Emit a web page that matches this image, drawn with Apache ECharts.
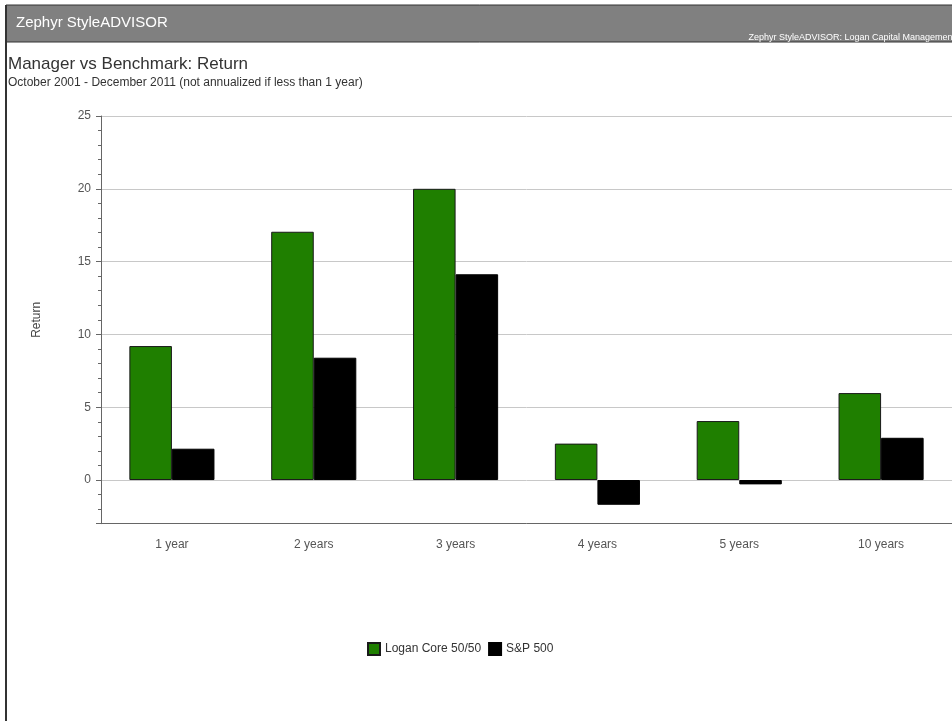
<!DOCTYPE html>
<html>
<head>
<meta charset="utf-8">
<script src="https://cdn.jsdelivr.net/npm/echarts@6/dist/echarts.min.js"></script>
<style>
html,body{margin:0;padding:0;background:#fff;}
#main{width:952px;height:721px;}
</style>
</head>
<body>
<div id="main"></div>
<script>
var categories = ['1 year', '2 years', '3 years', '4 years', '5 years', '10 years'];
var managerName = 'Logan Core 50/50';
var benchmarkName = 'S&P 500';
var managerValues = [9.2, 17.05, 20.0, 2.5, 4.05, 5.97];
var benchmarkValues = [2.15, 8.4, 14.13, -1.7, -0.3, 2.9];
var yMin = -3;
var yMax = 25;

var chart = echarts.init(document.getElementById('main'));
var font = 'Liberation Sans, Arial, sans-serif';
var option = {
  animation: false,
  textStyle: { fontFamily: font },
  graphic: [
    { type: 'rect', shape: { x: 6, y: 5, width: 950, height: 37 }, style: { fill: '#808080', stroke: '#333', lineWidth: 1 }, z: 0 },
    { type: 'line', shape: { x1: 6, y1: 5, x2: 6, y2: 725 }, style: { stroke: '#333', lineWidth: 2 } },
    { type: 'text', left: 16, top: 15, style: { text: 'Zephyr StyleADVISOR', fill: '#fff', font: '15px ' + font } },
    { type: 'text', right: -3, top: 33, style: { text: 'Zephyr StyleADVISOR: Logan Capital Management', fill: '#fff', font: '9px ' + font } },
    { type: 'text', left: 8, top: 56, style: { text: 'Manager vs Benchmark: Return', fill: '#333', font: '17px ' + font } },
    { type: 'text', left: 8, top: 77, style: { text: 'October 2001 - December 2011 (not annualized if less than 1 year)', fill: '#333', font: '12px ' + font } }
  ],
  legend: {
    left: 362, top: 637,
    itemWidth: 12, itemHeight: 12, itemGap: 7,
    icon: 'rect',
    textStyle: { fontSize: 12, color: '#333', fontFamily: font },
    data: [managerName, benchmarkName]
  },
  grid: { left: 101, top: 116, width: 853, height: 407.7, containLabel: false },
  xAxis: {
    type: 'category',
    data: categories,
    axisLine: { onZero: false, lineStyle: { color: '#666' } },
    axisTick: { alignWithLabel: true, length: 5, lineStyle: { color: '#666' } },
    axisLabel: { color: '#555', fontSize: 12, margin: 15 },
    splitLine: { show: false }
  },
  yAxis: [
    {
      type: 'value', min: yMin, max: yMax, splitNumber: 5,
      name: 'Return', nameLocation: 'middle', nameGap: 58, nameRotate: 90,
      nameTextStyle: { color: '#444', fontSize: 12 },
      axisLine: { show: true, lineStyle: { color: '#666' } },
      axisTick: { show: true, length: 5, lineStyle: { color: '#666' } },
      axisLabel: { color: '#555', fontSize: 12, margin: 10, formatter: function (v) { return v % 5 === 0 ? String(v) : ''; } },
      splitLine: { show: true, lineStyle: { color: '#c8c8c8' } }
    },
    {
      type: 'value', min: yMin, max: yMax, interval: 1, position: 'left',
      axisLine: { show: false },
      axisTick: { show: true, length: 3, lineStyle: { color: '#666' } },
      axisLabel: { show: false },
      splitLine: { show: false }
    }
  ],
  series: [
    {
      name: managerName, type: 'bar', data: managerValues,
      barGap: '0%', barCategoryGap: '40%',
      itemStyle: { color: '#1f7f00', borderColor: '#1a1a1a', borderWidth: 1 }
    },
    {
      name: benchmarkName, type: 'bar', data: benchmarkValues,
      barGap: '0%', barCategoryGap: '40%',
      itemStyle: { color: '#000', borderColor: '#000', borderWidth: 1 }
    }
  ]
};
chart.setOption(option);
</script>
</body>
</html>
